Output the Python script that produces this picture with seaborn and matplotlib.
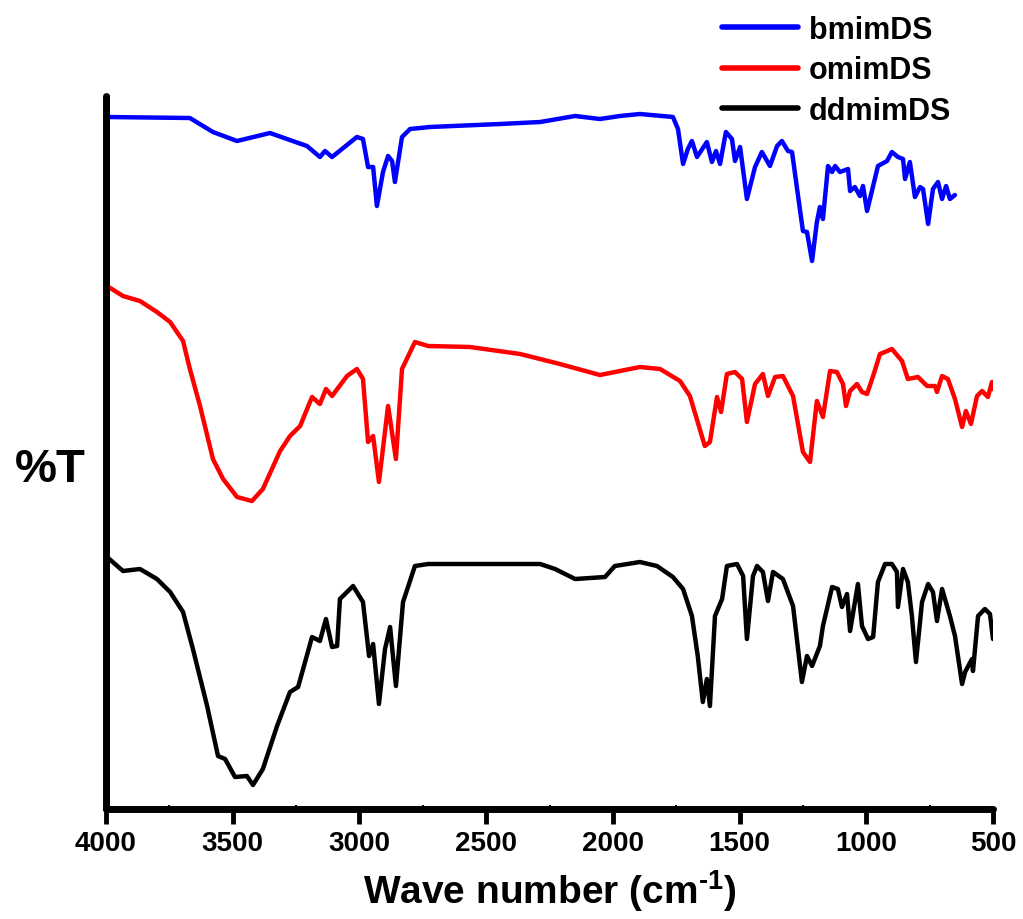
import numpy as np
import pandas as pd
import seaborn as sns
import matplotlib
matplotlib.use("Agg")
import matplotlib.pyplot as plt
from matplotlib.lines import Line2D

# wavenumber (cm-1) and %T (arbitrary offset units)
bmim_wn = [4000, 3669, 3578, 3483, 3353, 3286, 3207, 3156, 3136, 3108, 3010, 2986, 2966, 2946,
           2931, 2907, 2887, 2871, 2860, 2832, 2800, 2722, 2445, 2287, 2149, 2051, 1972, 1893,
           1763, 1743, 1723, 1704, 1688, 1668, 1629, 1609, 1593, 1577, 1554, 1530, 1518, 1498,
           1471, 1439, 1412, 1380, 1352, 1333, 1309, 1293, 1273, 1250, 1234, 1214, 1195, 1183,
           1171, 1151, 1135, 1123, 1104, 1072, 1064, 1045, 1025, 1013, 997, 973, 954, 918, 899,
           875, 855, 847, 828, 808, 788, 776, 756, 737, 717, 701, 685, 670, 650]
bmim_t = [692, 691, 677, 668, 676, 670, 663, 652, 658, 652, 672, 670, 642, 642,
          603, 637, 653, 648, 627, 672, 680, 682, 685, 687, 693, 690, 693, 695,
          692, 680, 645, 660, 668, 652, 667, 647, 658, 645, 677, 670, 648, 662,
          610, 642, 657, 643, 663, 668, 658, 657, 620, 578, 577, 548, 587, 602,
          590, 643, 637, 643, 637, 640, 618, 622, 613, 623, 598, 623, 643, 648, 657,
          652, 650, 630, 647, 612, 622, 620, 585, 620, 627, 610, 623, 610, 614]

omim_wn = [3996, 3933, 3866, 3799, 3747, 3696, 3669, 3629, 3578, 3538, 3483, 3424, 3381, 3313,
           3274, 3234, 3187, 3156, 3132, 3108, 3049, 3010, 2986, 2966, 2946, 2923, 2887, 2856,
           2832, 2781, 2729, 2564, 2366, 2209, 2051, 1893, 1814, 1735, 1696, 1637, 1617, 1589,
           1573, 1550, 1518, 1490, 1471, 1439, 1408, 1388, 1360, 1329, 1289, 1250, 1222, 1195,
           1171, 1143, 1116, 1092, 1080, 1064, 1037, 1017, 997, 973, 946, 926, 899, 859, 836,
           796, 760, 729, 721, 701, 678, 650, 622, 607, 587, 563, 543, 520, 504, 500]
omim_t = [523, 513, 508, 497, 487, 468, 440, 403, 350, 330, 312, 308, 320, 358,
          373, 383, 412, 405, 420, 413, 433, 440, 430, 367, 373, 327, 403, 350,
          440, 467, 463, 462, 455, 445, 434, 442, 440, 428, 413, 363, 367, 412,
          397, 435, 437, 430, 387, 425, 435, 413, 432, 433, 413, 357, 347, 408,
          392, 438, 437, 425, 403, 418, 425, 417, 415, 433, 455, 457, 460, 448, 430,
          432, 423, 423, 417, 433, 430, 410, 382, 398, 385, 413, 418, 412, 427, 420]

ddmim_wn = [3996, 3933, 3866, 3799, 3747, 3696, 3657, 3601, 3558, 3530, 3491, 3444, 3420, 3381,
            3325, 3274, 3242, 3187, 3156, 3132, 3108, 3088, 3077, 3025, 2986, 2962, 2946, 2923,
            2899, 2879, 2856, 2828, 2781, 2729, 2287, 2228, 2149, 2031, 1992, 1893, 1826, 1763,
            1723, 1688, 1665, 1645, 1629, 1617, 1597, 1569, 1550, 1510, 1486, 1471, 1447, 1431,
            1408, 1388, 1368, 1329, 1289, 1254, 1234, 1214, 1183, 1171, 1135, 1112, 1096, 1076,
            1064, 1033, 1017, 993, 973, 954, 926, 899, 879, 875, 855, 836, 820, 804, 780, 756,
            737, 721, 701, 670, 650, 622, 610, 583, 579, 559, 532, 512, 500]
ddmim_t = [252, 238, 240, 230, 217, 197, 160, 103, 53, 50, 32, 33, 24, 40,
           83, 117, 122, 172, 168, 190, 162, 163, 210, 223, 207, 153, 165, 105,
           160, 182, 123, 207, 243, 245, 245, 240, 230, 232, 243, 247, 243, 232,
           220, 193, 153, 107, 130, 103, 193, 210, 243, 245, 233, 170, 233, 243,
           237, 208, 237, 230, 203, 127, 153, 143, 163, 183, 222, 220, 202, 215,
           178, 225, 183, 170, 172, 227, 245, 245, 237, 202, 240, 227, 193, 147, 207, 225,
           217, 188, 220, 193, 173, 125, 137, 150, 138, 193, 200, 195, 170]

names = ["bmimDS", "omimDS", "ddmimDS"]
colors = {"bmimDS": "#0000ff", "omimDS": "#ff0000", "ddmimDS": "#000000"}

df = pd.concat([
    pd.DataFrame({"wn": bmim_wn, "t": bmim_t, "sample": "bmimDS"}),
    pd.DataFrame({"wn": omim_wn, "t": omim_t, "sample": "omimDS"}),
    pd.DataFrame({"wn": ddmim_wn, "t": ddmim_t, "sample": "ddmimDS"}),
])

sns.set_style("ticks")
plt.rcParams["font.family"] = ["Liberation Sans", "DejaVu Sans"]
plt.rcParams["text.color"] = "black"
plt.rcParams["axes.labelcolor"] = "black"
plt.rcParams["xtick.color"] = "black"
plt.rcParams["ytick.color"] = "black"
plt.rcParams["mathtext.fontset"] = "custom"
plt.rcParams["mathtext.rm"] = "Liberation Sans:bold"
plt.rcParams["mathtext.bf"] = "Liberation Sans:bold"

fig = plt.figure(figsize=(10.23, 9.2), dpi=100)
ax = fig.add_axes([106 / 1023, 1 - 810 / 920, 887 / 1023, 713 / 920])

sns.lineplot(data=df, x="wn", y="t", hue="sample", palette=colors, sort=False,
             estimator=None, linewidth=3.2, legend=False, ax=ax)

ax.set_xlim(4000, 500)
ax.set_ylim(0, 713)
ax.set_xticks(np.arange(4000, 499, -500))
ax.set_xticks(np.arange(3750, 500, -500), minor=True)
ax.set_yticks(np.linspace(0, 713, 30))
ax.set_yticklabels([])
ax.tick_params(axis="x", which="major", direction="out", length=11, width=3.5, pad=4,
               labelsize=20, labelcolor="black")
ax.tick_params(axis="x", which="minor", direction="in", length=3, width=1.5)
ax.tick_params(axis="y", which="major", direction="in", length=3, width=1.5)
for lab in ax.get_xticklabels():
    lab.set_fontweight("bold")

sns.despine(ax=ax)
for s in ["left", "bottom"]:
    ax.spines[s].set_linewidth(5)
    ax.spines[s].set_capstyle("round")
    ax.spines[s].set_color("black")

ax.set_xlabel("Wave number (cm$^{\\text{-1}}$)", fontsize=28, fontweight="bold", labelpad=8)
ax.set_ylabel("")
fig.text(15 / 1023, 1 - 470 / 920, "%T", fontsize=34, fontweight="bold", va="center", ha="left")

handles = [Line2D([], [], color=colors[n], linewidth=4) for n in names]
leg = fig.legend(handles, names, loc="upper left", bbox_to_anchor=(722 / 1023, 1 - 16 / 920),
                 frameon=False, prop={"size": 22, "weight": "bold"}, handlelength=2.5,
                 handletextpad=0.35, labelspacing=0.34, borderpad=0, borderaxespad=0)

fig.savefig("out.png", dpi=100)
